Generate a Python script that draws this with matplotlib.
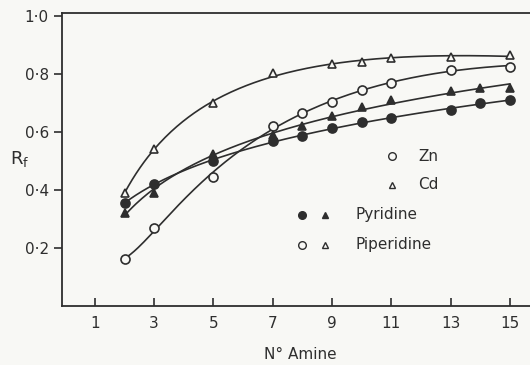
import numpy as np
import matplotlib
matplotlib.use("Agg")
import matplotlib.pyplot as plt

plt.rcParams['font.family'] = ['DejaVu Sans']
plt.rcParams['mathtext.fontset'] = 'dejavusans'

# Zn, piperidine (open circles)
zn_pip_x = [2, 3, 5, 7, 8, 9, 10, 11, 13, 15]
zn_pip_y = [0.16, 0.27, 0.445, 0.62, 0.665, 0.705, 0.745, 0.77, 0.815, 0.825]
# Cd, piperidine (open triangles)
cd_pip_x = [2, 3, 5, 7, 9, 10, 11, 13, 15]
cd_pip_y = [0.39, 0.54, 0.70, 0.805, 0.835, 0.84, 0.855, 0.86, 0.865]
# Cd, pyridine (filled triangles)
cd_pyr_x = [2, 3, 5, 7, 8, 9, 10, 11, 13, 14, 15]
cd_pyr_y = [0.32, 0.39, 0.525, 0.59, 0.62, 0.655, 0.685, 0.71, 0.74, 0.75, 0.75]
# Zn, pyridine (filled circles)
zn_pyr_x = [2, 3, 5, 7, 8, 9, 10, 11, 13, 14, 15]
zn_pyr_y = [0.355, 0.42, 0.50, 0.57, 0.585, 0.615, 0.635, 0.648, 0.675, 0.70, 0.71]

xticks = [1, 3, 5, 7, 9, 11, 13, 15]
yticks = [0.2, 0.4, 0.6, 0.8, 1.0]
ytick_labels = ['0·2', '0·4', '0·6', '0·8', '1·0']

ink = '#2e2e2e'
bg = '#f8f8f5'

fig = plt.figure(figsize=(5.3, 3.65), dpi=100, facecolor=bg)
ax = fig.add_axes([0.117, 0.162, 0.883, 0.802])
ax.set_facecolor(bg)

def smooth(x, y, deg):
    x = np.asarray(x, float)
    y = np.asarray(y, float)
    c = np.polyfit(np.log(x), y, deg)
    xs = np.linspace(x.min(), x.max(), 200)
    return xs, np.polyval(c, np.log(xs))

for x, y, mk, fill, deg in [
    (cd_pip_x, cd_pip_y, '^', False, 3),
    (zn_pip_x, zn_pip_y, 'o', False, 3),
    (cd_pyr_x, cd_pyr_y, '^', True, 2),
    (zn_pyr_x, zn_pyr_y, 'o', True, 2),
]:
    xs, ys = smooth(x, y, deg)
    ax.plot(xs, ys, color=ink, lw=1.2, zorder=2)
    ax.plot(x, y, linestyle='none', marker=mk, ms=6.5 if mk == 'o' else 6,
            mec=ink, mew=1.2, mfc=ink if fill else bg, zorder=3)

ax.set_xlim(-0.11, 15.68)
ax.set_ylim(0, 1.01)
ax.set_xticks(xticks)
ax.set_xticklabels([str(t) for t in xticks])
ax.set_yticks(yticks)
ax.set_yticklabels(ytick_labels)
ax.tick_params(axis='x', direction='in', length=6, width=1.2, colors=ink,
               labelsize=11, pad=7)
ax.tick_params(axis='y', direction='out', length=6, width=1.2, colors=ink,
               labelsize=11)
for s in ['left', 'bottom', 'top']:
    ax.spines[s].set_color(ink)
    ax.spines[s].set_linewidth(1.3)
ax.spines['right'].set_visible(False)

ax.set_xlabel('N° Amine', fontsize=11, color=ink)
ax.xaxis.set_label_coords(0.51, -0.142)
fig.text(0.018, 0.565, r'R$_\mathrm{f}$', fontsize=13, color=ink,
         ha='left', va='center')

# legend drawn in axes coordinates
tr = ax.transAxes
def ax_xy(px, py):
    return ((px - 62) / (530 - 62), (306 - py) / (306 - 13))

leg = [
    ([(392, 156, 'o', False)], 'Zn', 418),
    ([(392, 185, '^', False)], 'Cd', 418),
    ([(302, 215, 'o', True), (325, 215, '^', True)], 'Pyridine', 355),
    ([(302, 245, 'o', False), (325, 245, '^', False)], 'Piperidine', 355),
]
for marks, label, tx in leg:
    for px, py, mk, fill in marks:
        xa, ya = ax_xy(px, py)
        ax.plot([xa], [ya], transform=tr, linestyle='none', marker=mk,
                ms=5.5 if mk == 'o' else 5, mec=ink, mew=1.0,
                mfc=ink if fill else bg, clip_on=False)
    xa, ya = ax_xy(tx, marks[0][1])
    ax.text(xa, ya, label, transform=tr, fontsize=11, color=ink,
            ha='left', va='center')

fig.savefig('out.png', dpi=100, facecolor=bg)
